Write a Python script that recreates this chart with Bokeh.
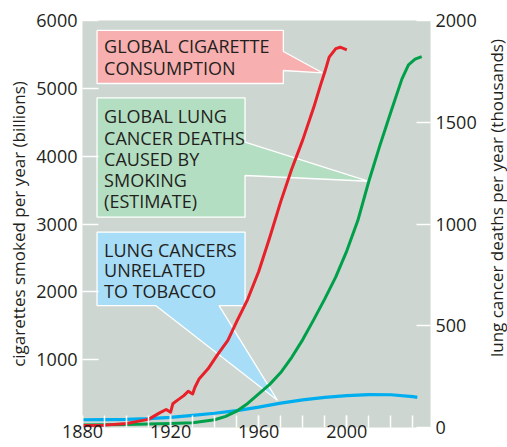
import numpy as np
from bokeh.plotting import figure
from bokeh.layouts import row
from bokeh.models import Range1d, LinearAxis, FixedTicker, SingleIntervalTicker
from bokeh.embed import file_html
from bokeh.resources import INLINE
from bokeh.core.properties import value

# ---------------- data ----------------
cig_years = [1880, 1890, 1900, 1905, 1910, 1915, 1918, 1920, 1921, 1923, 1926, 1928,
             1930, 1931, 1933, 1937, 1941, 1946, 1950, 1955, 1960, 1965, 1970, 1975,
             1980, 1985, 1988, 1990, 1992, 1995, 1997, 2000]
cig_billions = [30, 35, 60, 90, 120, 215, 265, 225, 350, 400, 470, 535,
                495, 590, 720, 865, 1060, 1285, 1560, 1890, 2300, 2800, 3330, 3810,
                4240, 4720, 5040, 5240, 5460, 5585, 5606, 5568]

death_years = [1880, 1900, 1920, 1930, 1940, 1945, 1950, 1955, 1960, 1965, 1970, 1975,
               1980, 1985, 1990, 1995, 2000, 2005, 2010, 2015, 2020, 2025, 2028, 2031, 2034]
smoking_deaths = [12, 15, 20, 23, 38, 55, 80, 118, 165, 212, 270, 345,
                  432, 530, 632, 740, 868, 1017, 1210, 1385, 1550, 1712, 1782, 1810, 1823]

other_years = [1880, 1890, 1900, 1910, 1920, 1930, 1940, 1950, 1960, 1970, 1980, 1990,
               2000, 2010, 2020, 2030, 2032]
other_deaths = [38, 39, 40, 44, 50, 60, 70, 83, 100, 120, 136, 148,
                157, 162, 161, 152, 148]

left_ticks = [1000, 2000, 3000, 4000, 5000, 6000]
right_ticks = [0, 500, 1000, 1500, 2000]

FONT = "Open Sans"
TXT = "#231F20"
RED = "#E8202A"
GREEN = "#00A04B"
BLUE = "#00AEEF"

p = figure(width=480, height=447, output_backend="svg", toolbar_location=None,
           x_range=Range1d(1880, 2038), y_range=Range1d(0, 6000),
           min_border_left=82, min_border_right=50, min_border_top=20, min_border_bottom=20)
p.extra_y_ranges = {"deaths": Range1d(0, 2000)}
p.background_fill_color = "#CDD6D0"
p.border_fill_color = "white"
p.outline_line_color = None
p.grid.visible = False
p.xaxis.visible = False
p.yaxis.visible = False

def style_axis(ax, tick_len):
    ax.axis_line_color = None
    ax.major_tick_out = 0
    ax.major_tick_in = tick_len
    ax.minor_tick_out = 0
    ax.minor_tick_in = tick_len
    ax.major_tick_line_color = "white"
    ax.minor_tick_line_color = "white"
    ax.major_tick_line_width = 1.5
    ax.minor_tick_line_width = 1.5
    ax.major_label_text_font = FONT
    ax.major_label_text_font_size = "18px"
    ax.major_label_text_color = TXT
    ax.axis_label_text_font = FONT
    ax.axis_label_text_font_size = "17px"
    ax.axis_label_text_font_style = "normal"
    ax.axis_label_text_color = TXT

lax = LinearAxis(ticker=FixedTicker(ticks=left_ticks),
                 axis_label="cigarettes smoked per year (billions)")
style_axis(lax, 16)
lax.minor_tick_line_color = None
lax.major_label_standoff = 5
lax.axis_label_standoff = 3
p.add_layout(lax, "left")

rax = LinearAxis(y_range_name="deaths", ticker=FixedTicker(ticks=right_ticks))
style_axis(rax, 14)
rax.minor_tick_line_color = None
rax.major_label_standoff = 5
p.add_layout(rax, "right")

bax = LinearAxis(ticker=SingleIntervalTicker(interval=40, num_minor_ticks=4))
style_axis(bax, 12)
bax.major_label_standoff = -3
p.add_layout(bax, "below")

# ---------------- callouts (annotation geometry in data units) ----------------
L, R = 1886.6, 1953.8
pink_R = 1971.2
pink_tip = (1988.9, 5229)
pink_xs = [L, pink_R, pink_R, pink_tip[0], pink_R, pink_R, L]
pink_ys = [5853, 5853, 5543, pink_tip[1], 5263, 5071, 5071]
g_tip_x = 2010.0
g_tip_y = 3 * float(np.interp(g_tip_x, death_years, smoking_deaths))
green_xs = [L, R, R, g_tip_x, R, R, L]
green_ys = [4860, 4860, 4206, g_tip_y, 3715, 3100, 3100]
b_tip_x = 1968.5
b_tip_y = 3 * float(np.interp(b_tip_x, other_years, other_deaths)) + 50
blue_xs = [L, R, R, 1942.0, b_tip_x, 1913.2, L]
blue_ys = [2879, 2879, 1798, 1798, b_tip_y, 1798, 1798]

p.patches(xs=[pink_xs, green_xs, blue_xs], ys=[pink_ys, green_ys, blue_ys],
          fill_color=["#F8AFAF", "#B3DEC2", "#A8DDF7"], line_color="white", line_width=1.3)

tx = 1889.8
p.text(x=[tx] * 10,
       y=[5617, 5297, 4585, 4271, 3961, 3652, 3332, 2620, 2315, 2005],
       text=["GLOBAL CIGARETTE", "CONSUMPTION",
             "GLOBAL LUNG", "CANCER DEATHS", "CAUSED BY", "SMOKING", "(ESTIMATE)",
             "LUNG CANCERS", "UNRELATED", "TO TOBACCO"],
       text_font=value(FONT), text_font_size="18px", text_color=TXT,
       text_align="left", text_baseline="middle")

# ---------------- series ----------------
p.line(other_years, other_deaths, y_range_name="deaths", line_color=BLUE, line_width=3.2)
p.line(death_years, smoking_deaths, y_range_name="deaths", line_color=GREEN, line_width=3,
       line_join="round")
p.line(cig_years, cig_billions, line_color=RED, line_width=3, line_join="round")

# ---------------- right axis title in a narrow strip (reads bottom to top) ----------------
t = figure(width=27, height=447, output_backend="svg", toolbar_location=None,
           x_range=Range1d(0, 27), y_range=Range1d(447, 0),
           min_border=0, min_border_left=0, min_border_right=0,
           min_border_top=0, min_border_bottom=0)
t.axis.visible = False
t.grid.visible = False
t.outline_line_color = None
t.background_fill_color = "white"
t.border_fill_color = "white"
t.text(x=[16], y=[195], text=["lung cancer deaths per year (thousands)"],
       angle=np.pi / 2, text_font=value(FONT), text_font_size="17px", text_color=TXT,
       text_align="center", text_baseline="middle")

layout = row(p, t, spacing=0)
open("out.html", "w").write(file_html(layout, INLINE))
